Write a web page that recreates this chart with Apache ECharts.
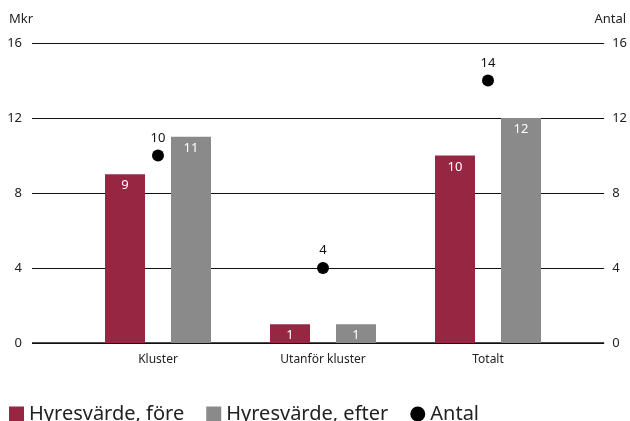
<!DOCTYPE html>
<html><head><meta charset="utf-8">
<script src="https://cdn.jsdelivr.net/npm/echarts@6/dist/echarts.min.js"></script>
<style>html,body{margin:0;padding:0;background:#fff}#c{width:630px;height:421px}</style>
</head><body><div id="c"></div>
<script>
const categories = ['Kluster', 'Utanför kluster', 'Totalt'];
const foreValues = [9, 1, 10];
const efterValues = [11, 1, 12];
const antalValues = [10, 4, 14];
const yTicks = [0, 4, 8, 12, 16];
const seriesNames = ['Hyresvärde, före', 'Hyresvärde, efter', 'Antal'];

const FONT = 'Noto Sans';
const RED = '#962642';
const GRAY = '#8a8a8a';
const chart = echarts.init(document.getElementById('c'));
const tickStyle = {color: '#222', fontSize: 13, fontFamily: FONT};
chart.setOption({
  animation: false,
  textStyle: {fontFamily: FONT},
  grid: [
    {left: 32, right: 22, top: 43, bottom: 78},
    {left: 75.5, right: 59.5, top: 43, bottom: 78}
  ],
  xAxis: [
    {gridIndex: 0, type: 'value', min: 0, max: 1, show: true, axisLine: {show: false}, axisTick: {show: false}, axisLabel: {show: false}, splitLine: {show: false}},
    {gridIndex: 1, type: 'category', data: categories, axisLine: {show: false}, axisTick: {show: false},
     axisLabel: {margin: 11, color: '#222', fontSize: 12, fontFamily: FONT}}
  ],
  yAxis: [
    {gridIndex: 0, type: 'value', min: yTicks[0], max: yTicks[yTicks.length-1], interval: 4, position: 'left',
     name: 'Mkr', nameGap: 17, nameTextStyle: {color: '#222', fontSize: 13, fontFamily: FONT, align: 'left', padding: [0, 0, 0, -23]},
     axisLine: {show: false}, axisTick: {show: false}, axisLabel: Object.assign({margin: 10}, tickStyle),
     splitLine: {lineStyle: {color: '#111', width: 1}}},
    {gridIndex: 0, type: 'value', min: yTicks[0], max: yTicks[yTicks.length-1], interval: 4, position: 'right',
     name: 'Antal', nameGap: 17, nameTextStyle: {color: '#222', fontSize: 13, fontFamily: FONT, align: 'right', padding: [0, -22, 0, 0]},
     axisLine: {show: false}, axisTick: {show: false}, axisLabel: Object.assign({margin: 8}, tickStyle),
     splitLine: {show: false}},
    {gridIndex: 1, type: 'value', min: 0, max: 16, show: false, splitLine: {show: false}}
  ],
  legend: {
    left: 4, top: 399, itemWidth: 15, itemHeight: 15, itemGap: 22,
    textStyle: {fontSize: 20, color: '#222', fontFamily: FONT},
    data: [
      {name: seriesNames[0], icon: 'rect'},
      {name: seriesNames[1], icon: 'rect'},
      {name: seriesNames[2], icon: 'circle'}
    ]
  },
  series: [
    {name: seriesNames[0], type: 'bar', xAxisIndex: 1, yAxisIndex: 2, data: foreValues, barWidth: 40, barGap: '65%',
     itemStyle: {color: RED}, label: {show: true, position: 'insideTop', distance: 5, color: '#fff', fontSize: 13, fontFamily: FONT}},
    {name: seriesNames[1], type: 'bar', xAxisIndex: 1, yAxisIndex: 2, data: efterValues, barWidth: 40, barGap: '65%',
     itemStyle: {color: GRAY}, label: {show: true, position: 'insideTop', distance: 5, color: '#fff', fontSize: 13, fontFamily: FONT}},
    {name: seriesNames[2], type: 'scatter', xAxisIndex: 1, yAxisIndex: 2, data: antalValues, symbolSize: 12, z: 5,
     itemStyle: {color: '#000', opacity: 1}, label: {show: true, position: 'top', distance: 5, color: '#111', fontSize: 13, fontFamily: FONT}},
    {type: 'line', xAxisIndex: 0, yAxisIndex: 0, data: [[0, 0], [1, 0]], symbol: 'none', silent: true,
     lineStyle: {color: '#111', width: 1.5}, z: 1}
  ]
});
</script></body></html>
